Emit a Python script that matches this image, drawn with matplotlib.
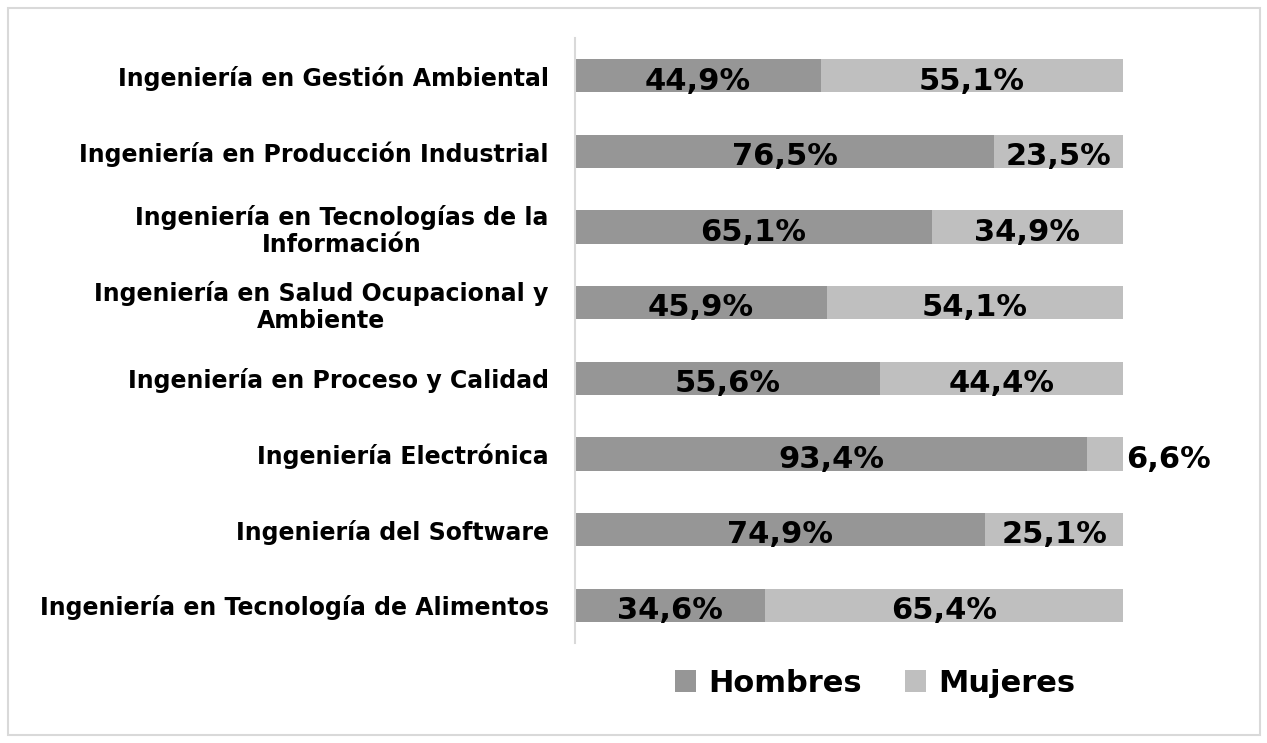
import matplotlib.pyplot as plt
from matplotlib.patches import Rectangle

carreras = [
    'Ingeniería en Gestión Ambiental',
    'Ingeniería en Producción Industrial',
    'Ingeniería en Tecnologías de la\nInformación',
    'Ingeniería en Salud Ocupacional y\nAmbiente',
    'Ingeniería en Proceso y Calidad',
    'Ingeniería Electrónica',
    'Ingeniería del Software',
    'Ingeniería en Tecnología de Alimentos',
]
hombres = [44.9, 76.5, 65.1, 45.9, 55.6, 93.4, 74.9, 34.6]
mujeres = [55.1, 23.5, 34.9, 54.1, 44.4, 6.6, 25.1, 65.4]

c_h = '#969696'
c_m = '#bfbfbf'
font = 'DejaVu Sans'

fig = plt.figure(figsize=(12.67, 7.43), dpi=100)
ax = fig.add_axes([575 / 1267, 1 - 643 / 743, 548 / 1267, 605 / 743])

# marco exterior
fig.patches.append(Rectangle((8 / 1267, 8 / 743), 1252 / 1267, 727 / 743,
                             transform=fig.transFigure, fill=False,
                             edgecolor='#d9d9d9', lw=1.5))

y = list(range(len(carreras)))
ax.barh(y, hombres, height=0.44, color=c_h, label='Hombres')
ax.barh(y, mujeres, left=hombres, height=0.44, color=c_m, label='Mujeres')

def fmt(v):
    return f'{v:.1f}%'.replace('.', ',')

for i in y:
    h, m = hombres[i], mujeres[i]
    ax.text(h / 2, i + 0.07, fmt(h), ha='center', va='center',
            fontsize=22, fontweight='bold', family=font)
    if m < 10:
        ax.text(100.5, i + 0.07, fmt(m), ha='left', va='center',
                fontsize=22, fontweight='bold', family=font)
    else:
        ax.text(h + m / 2, i + 0.07, fmt(m), ha='center', va='center',
                fontsize=22, fontweight='bold', family=font)

ax.set_xlim(0, 100)
ax.set_ylim(len(carreras) - 0.5, -0.5)
ax.set_yticks(y)
ax.set_yticklabels(carreras, fontsize=17, fontweight='bold', family=font,
                   linespacing=1.15, multialignment='center')
ax.tick_params(axis='y', length=0, pad=19)
ax.set_xticks([])
for s in ['top', 'right', 'bottom']:
    ax.spines[s].set_visible(False)
ax.spines['left'].set_color('#d9d9d9')
ax.spines['left'].set_linewidth(1.5)

fig.legend(loc='center', bbox_to_anchor=(875 / 1267, 1 - 683 / 743), ncol=2,
           frameon=False, handlelength=0.7, handleheight=0.7, handletextpad=0.4,
           columnspacing=1.4, prop={'family': font, 'weight': 'bold', 'size': 22})

fig.savefig('out.png', dpi=100)
